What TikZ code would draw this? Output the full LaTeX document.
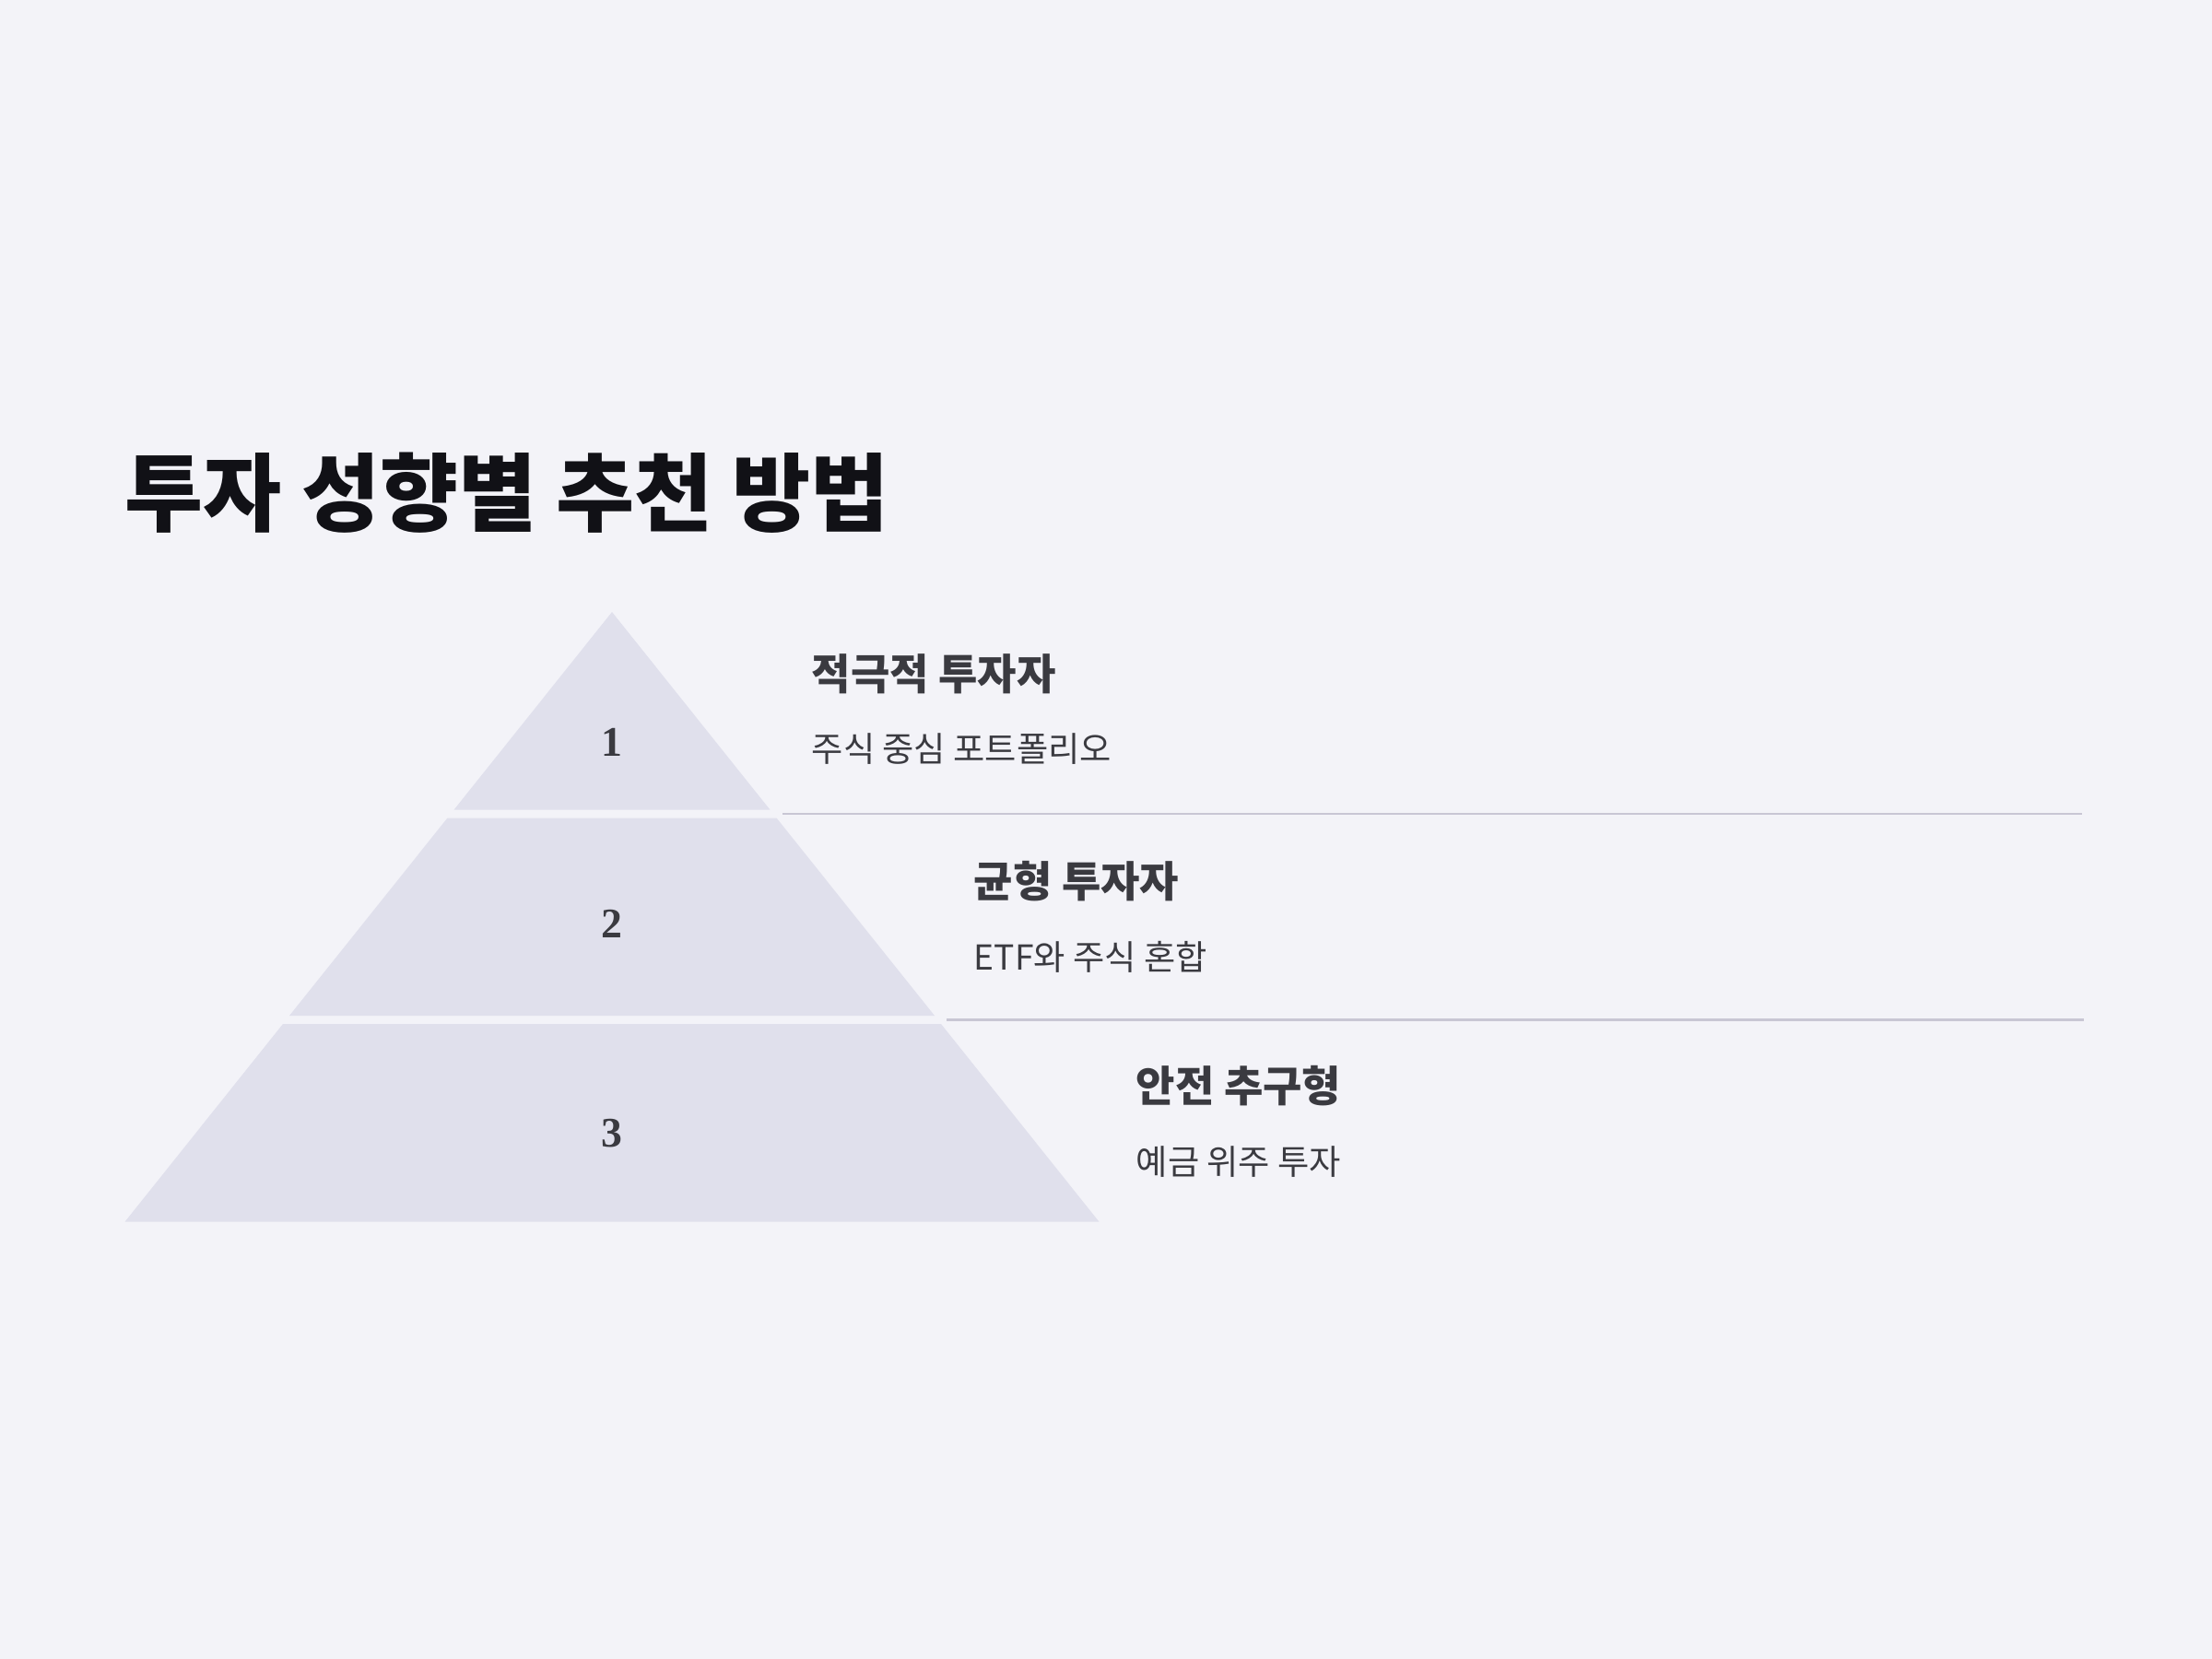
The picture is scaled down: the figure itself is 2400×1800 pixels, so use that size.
\documentclass[tikz,border=0pt]{standalone}
\usepackage{fontspec}
\newfontfamily\kr{Noto Sans CJK KR}
\newfontfamily\numfont{Liberation Serif}
\definecolor{bgc}{HTML}{F3F3F8}
\definecolor{tierc}{HTML}{E0E0EC}
\definecolor{titlec}{HTML}{111116}
\definecolor{textc}{HTML}{3A3A40}
\definecolor{rulec}{HTML}{C8C6D4}
\tikzset{
  tier/.style={fill=tierc, draw=none},
  numlabel/.style={font=\numfont\bfseries\fontsize{13}{15}\selectfont, text=textc, inner sep=0pt},
  headlabel/.style={font=\kr\bfseries\fontsize{13.1}{15}\selectfont, text=textc, anchor=west, inner sep=0pt},
  sublabel/.style={font=\kr\fontsize{10.6}{12}\selectfont, text=textc, anchor=west, inner sep=0pt},
  titlelabel/.style={font=\kr\bfseries\fontsize{26.3}{30}\selectfont, text=titlec, anchor=west, inner sep=0pt},
  divider/.style={draw=rulec, line width=0.6pt}
}
\begin{document}
\begin{tikzpicture}[x=0.01cm, y=-0.01cm]
\fill[bgc] (0,0) rectangle (2400,1800);
\useasboundingbox (0,0) rectangle (2400,1800);

\node[titlelabel] (title) at (135,535) {투자 성향별 추천 방법};

% pyramid tiers
\fill[tier] (664,664) -- (835.4,878.5) -- (492.6,878.5) -- cycle;
\fill[tier] (485.3,887.7) -- (842.7,887.7) -- (1014,1102) -- (314,1102) -- cycle;
\fill[tier] (306.8,1111.2) -- (1021.2,1111.2) -- (1192.4,1325.5) -- (135.6,1325.5) -- cycle;

\node[numlabel] (n1) at (664,805) {1};
\node[numlabel] (n2) at (664,1002) {2};
\node[numlabel] (n3) at (664,1230) {3};

\node[headlabel] (h1) at (880,731) {적극적 투자자};
\node[sublabel] (s1) at (880,813) {주식 중심 포트폴리오};
\node[headlabel] (h2) at (1056,956) {균형 투자자};
\node[sublabel] (s2) at (1056,1038) {ETF와 주식 혼합};
\node[headlabel] (h3) at (1232,1178) {안전 추구형};
\node[sublabel] (s3) at (1232,1261) {예금 위주 투자};

\coordinate (l1a) at (849,883);
\coordinate (l1b) at (2259,883);
\coordinate (l2a) at (1027,1106.5);
\coordinate (l2b) at (2261,1106.5);
\draw[divider] (l1a) -- (l1b);
\draw[divider] (l2a) -- (l2b);
\end{tikzpicture}
\end{document}
